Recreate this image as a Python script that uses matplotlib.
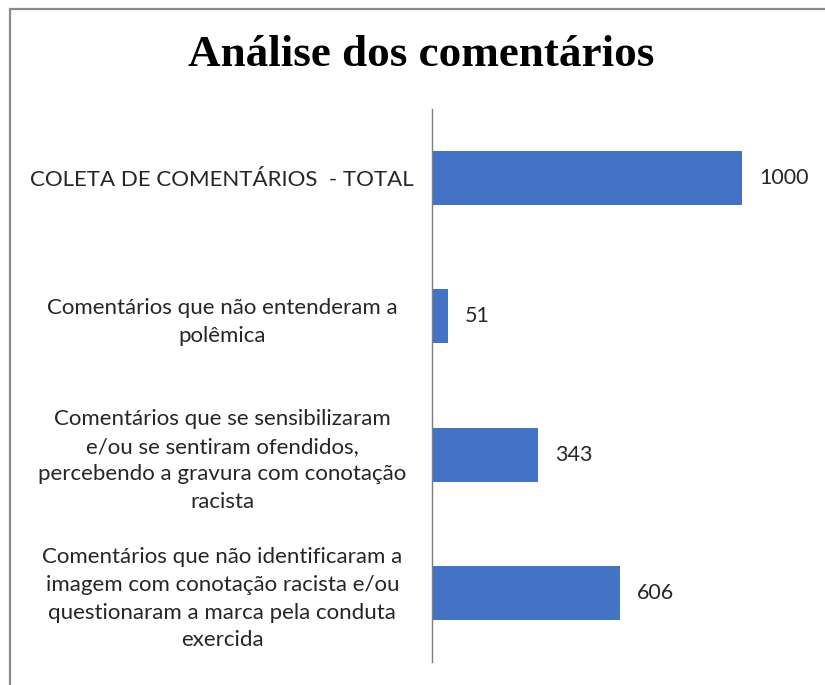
import matplotlib.pyplot as plt
from matplotlib.patches import Rectangle

categories = [
    "COLETA DE COMENTÁRIOS  - TOTAL",
    "Comentários que não entenderam a\npolêmica",
    "Comentários que se sensibilizaram\ne/ou se sentiram ofendidos,\npercebendo a gravura com conotação\nracista",
    "Comentários que não identificaram a\nimagem com conotação racista e/ou\nquestionaram a marca pela conduta\nexercida",
]
values = [1000, 51, 343, 606]

W, H = 825, 685
fig = plt.figure(figsize=(W / 100, H / 100), dpi=100)
ax = fig.add_axes([432 / W, 23 / H, 380 / W, (662 - 109) / H])

ypos = list(range(len(categories)))
ax.barh(ypos, values, height=0.39, color="#4472C4")
ax.set_xlim(0, 1225)
ax.set_ylim(3.5, -0.5)

for y, v in zip(ypos, values):
    ax.text(v + 55, y, str(v), va="center", ha="left", fontsize=15.5,
            family="Lato", color="#262626")

ax.set_yticks(ypos)
ax.set_yticklabels(categories, fontsize=16, family="Lato", color="#262626",
                   ha="center", linespacing=1.48)
ax.tick_params(axis="y", length=0, pad=151)
ax.set_xticks([])
for s in ["top", "right", "bottom"]:
    ax.spines[s].set_visible(False)
ax.spines["left"].set_color("#7f7f7f")
ax.spines["left"].set_linewidth(1.0)

fig.text(421 / W, 1 - 55 / H, "Análise dos comentários", ha="center",
         va="center", fontsize=32.5, fontweight="bold", family="Liberation Serif")

fig.patches.append(Rectangle((10 / W, -0.1), 1.2, 1 - 9 / H + 0.1,
                             transform=fig.transFigure, fill=False,
                             edgecolor="#8a8a8a", linewidth=1.6))

fig.savefig("out.png", dpi=100)
